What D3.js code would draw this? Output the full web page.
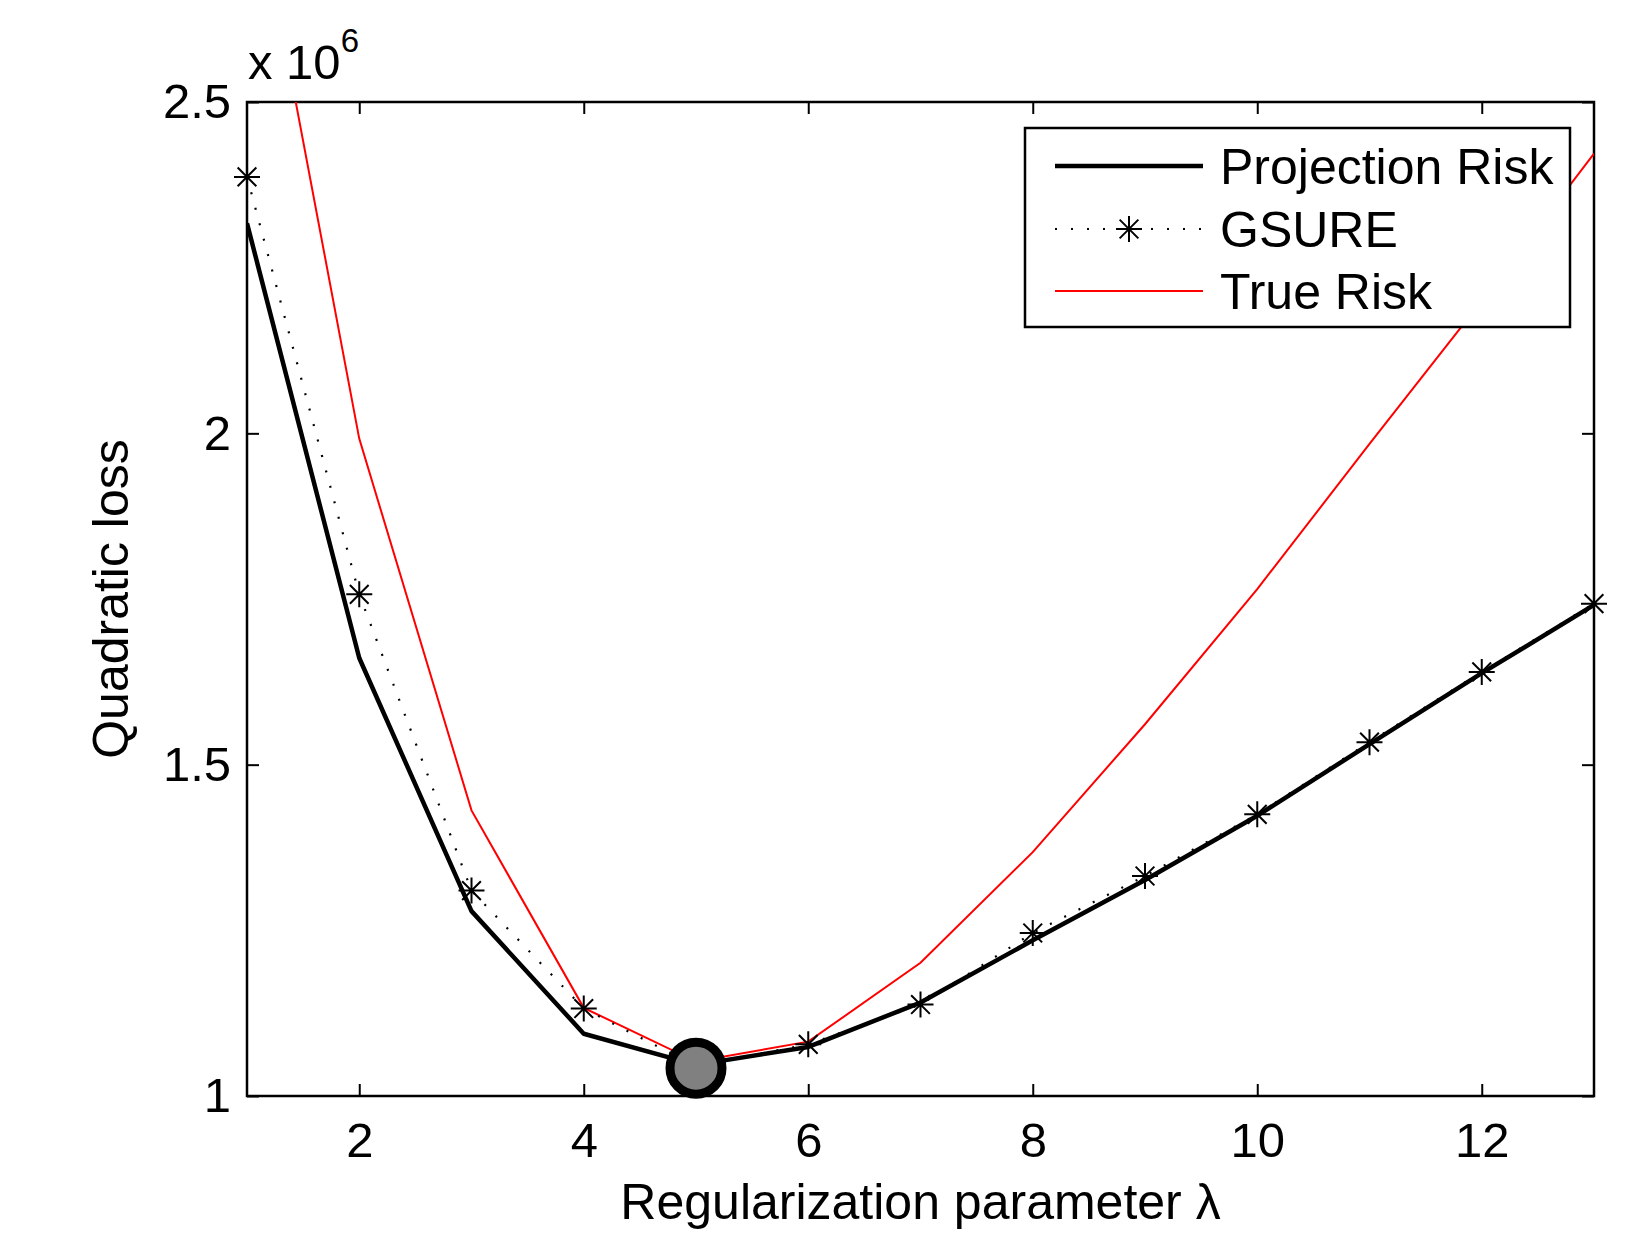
<!DOCTYPE html>
<html>
<head>
<meta charset="utf-8">
<script src="https://cdn.jsdelivr.net/npm/d3@7"></script>
<style>
  body { margin: 0; background: #fff; }
  svg text { font-family: "Liberation Sans", Arial, sans-serif; fill: #000; }
</style>
</head>
<body>
<div id="chart"></div>
<script>
const lambdas = [1, 2, 3, 4, 5, 6, 7, 8, 9, 10, 11, 12, 13];
const projectionRisk = [2.317, 1.661, 1.279, 1.094, 1.047, 1.074, 1.141, 1.235, 1.326, 1.423, 1.531, 1.638, 1.741];
const gsure = [2.387, 1.757, 1.310, 1.132, 1.045, 1.078, 1.138, 1.246, 1.332, 1.425, 1.534, 1.640, 1.743];
const trueRisk = [2.89, 1.992, 1.431, 1.133, 1.052, 1.082, 1.201, 1.368, 1.561, 1.765, 1.984, 2.200, 2.422];
const xTicks = [2, 4, 6, 8, 10, 12];
const yTicks = [1, 1.5, 2, 2.5];
const optimum = { x: 5, y: 1.042 };

const width = 1629, height = 1234;
const margin = { top: 102, right: 35, bottom: 138, left: 247 };

const svg = d3.select("#chart").append("svg")
    .attr("width", width)
    .attr("height", height);

const x = d3.scaleLinear().domain([1, 13]).range([margin.left, width - margin.right]);
const y = d3.scaleLinear().domain([1, 2.5]).range([height - margin.bottom, margin.top]);

const defs = svg.append("defs");
defs.append("clipPath").attr("id", "clip")
    .append("rect")
    .attr("x", margin.left).attr("y", margin.top)
    .attr("width", x(13) - x(1)).attr("height", y(1) - y(2.5));

// axes with inward ticks on all four sides
const tickLen = 12;
const fs = 49;
svg.append("g")
    .attr("transform", `translate(0,${y(1)})`)
    .call(d3.axisBottom(x).tickValues(xTicks).tickSizeInner(-tickLen).tickSizeOuter(0).tickPadding(26))
    .call(g => g.selectAll("text").attr("font-size", fs).attr("dy", "0.71em"));
svg.append("g")
    .attr("transform", `translate(0,${y(2.5)})`)
    .call(d3.axisTop(x).tickValues(xTicks).tickSizeInner(-tickLen).tickSizeOuter(0).tickFormat(""));
svg.append("g")
    .attr("transform", `translate(${x(1)},0)`)
    .call(d3.axisLeft(y).tickValues(yTicks).tickSizeInner(-tickLen).tickSizeOuter(0).tickPadding(16).tickFormat(d3.format("")))
    .call(g => g.selectAll("text").attr("font-size", fs));
svg.append("g")
    .attr("transform", `translate(${x(13)},0)`)
    .call(d3.axisRight(y).tickValues(yTicks).tickSizeInner(-tickLen).tickSizeOuter(0).tickFormat(""));
svg.selectAll(".domain").remove();
svg.selectAll(".tick line").attr("stroke", "#000").attr("stroke-width", 2);

svg.append("rect")
    .attr("x", x(1)).attr("y", y(2.5))
    .attr("width", x(13) - x(1)).attr("height", y(1) - y(2.5))
    .attr("fill", "none").attr("stroke", "#000").attr("stroke-width", 2.5);

// exponent label
const expo = svg.append("text")
    .attr("x", x(1) + 1).attr("y", 79)
    .attr("font-size", 49);
expo.append("tspan").text("x 10");
expo.append("tspan").attr("font-size", 33).attr("dy", -27).text("6");

// axis titles
svg.append("text")
    .attr("x", (x(1) + x(13)) / 2).attr("y", 1219)
    .attr("text-anchor", "middle").attr("font-size", 50)
    .text("Regularization parameter λ");
svg.append("text")
    .attr("transform", `translate(128,${(y(1) + y(2.5)) / 2}) rotate(-90)`)
    .attr("text-anchor", "middle").attr("font-size", 50)
    .text("Quadratic loss");

const plot = svg.append("g").attr("clip-path", "url(#clip)");
const line = d3.line().x((d, i) => x(lambdas[i])).y(d => y(d));

plot.append("path").datum(trueRisk)
    .attr("d", line).attr("fill", "none")
    .attr("stroke", "#ff0000").attr("stroke-width", 2);

plot.append("path").datum(projectionRisk)
    .attr("d", line).attr("fill", "none")
    .attr("stroke", "#000").attr("stroke-width", 4.5).attr("stroke-linejoin", "round");

plot.append("path").datum(gsure)
    .attr("d", line).attr("fill", "none")
    .attr("stroke", "#000").attr("stroke-width", 2.2)
    .attr("stroke-dasharray", "2 14");

function star(g, cx, cy, r) {
    const d = r * 0.72;
    g.append("path")
        .attr("d", `M${cx - r},${cy}H${cx + r}M${cx},${cy - r}V${cy + r}` +
            `M${cx - d},${cy - d}L${cx + d},${cy + d}M${cx - d},${cy + d}L${cx + d},${cy - d}`)
        .attr("stroke", "#000").attr("stroke-width", 2).attr("fill", "none");
}

const starLayer = svg.append("g");
gsure.forEach((v, i) => star(starLayer, x(lambdas[i]), y(v), 13));

svg.append("circle")
    .attr("cx", x(optimum.x)).attr("cy", y(optimum.y))
    .attr("r", 26)
    .attr("fill", "#808080").attr("stroke", "#000").attr("stroke-width", 9);

// legend
const lg = svg.append("g");
lg.append("rect")
    .attr("x", 1025).attr("y", 128).attr("width", 545).attr("height", 199)
    .attr("fill", "#fff").attr("stroke", "#000").attr("stroke-width", 2.5);
const rows = [
    { label: "Projection Risk", y: 166 },
    { label: "GSURE", y: 229 },
    { label: "True Risk", y: 291 }
];
lg.append("line").attr("x1", 1055).attr("x2", 1203).attr("y1", rows[0].y).attr("y2", rows[0].y)
    .attr("stroke", "#000").attr("stroke-width", 4.5);
lg.append("line").attr("x1", 1055).attr("x2", 1203).attr("y1", rows[1].y).attr("y2", rows[1].y)
    .attr("stroke", "#000").attr("stroke-width", 2.2).attr("stroke-dasharray", "2 14");
star(lg, 1129, rows[1].y, 13);
lg.append("line").attr("x1", 1055).attr("x2", 1203).attr("y1", rows[2].y).attr("y2", rows[2].y)
    .attr("stroke", "#ff0000").attr("stroke-width", 2);
rows.forEach(r => lg.append("text")
    .attr("x", 1220).attr("y", r.y).attr("dy", "0.36em")
    .attr("font-size", 50).text(r.label));
</script>
</body>
</html>
